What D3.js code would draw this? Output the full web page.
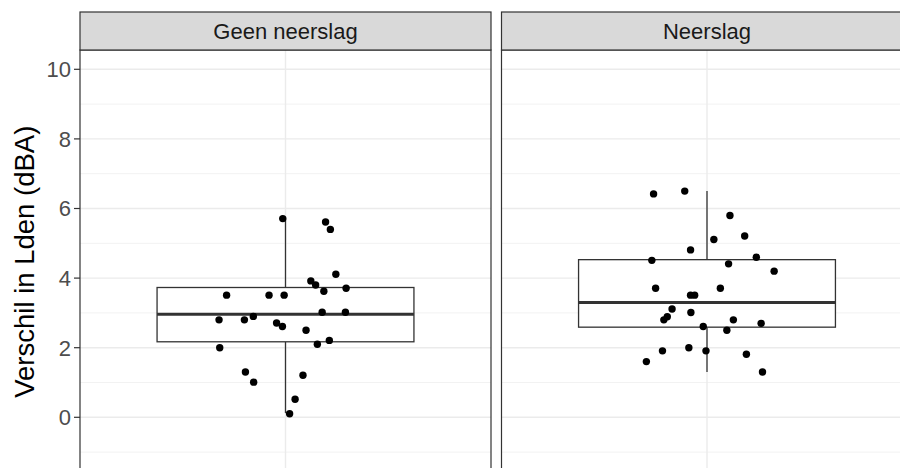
<!DOCTYPE html>
<html><head><meta charset="utf-8">
<script src="https://cdn.jsdelivr.net/npm/d3@7"></script>
<style>body{margin:0;background:#fff}svg{display:block}text{font-family:"Liberation Sans",Arial,sans-serif}</style>
</head><body>
<script>
const panels = ["Geen neerslag", "Neerslag"];
// box statistics: [lowerWhisker, Q1, median, Q3, upperWhisker]
const boxStats = [
  [0.12, 2.17, 2.96, 3.73, 5.71],
  [1.30, 2.59, 3.30, 4.53, 6.50]
];
// points: values and horizontal jitter (category units)
const geenValues = [5.71,5.61,5.40,4.11,3.92,3.80,3.62,3.71,3.51,3.51,3.51,3.02,3.02,2.80,2.80,2.90,2.71,2.61,2.50,2.10,2.21,2.00,1.30,1.01,1.21,0.52,0.10];
const geenJitter = [-0.008,0.117,0.131,0.147,0.074,0.088,0.112,0.177,-0.172,-0.048,-0.004,0.107,0.175,-0.194,-0.120,-0.094,-0.026,-0.009,0.060,0.093,0.128,-0.192,-0.117,-0.093,0.051,0.028,0.012];
const neerValues = [6.42,6.50,5.80,5.21,5.11,4.81,4.51,4.60,4.41,4.20,3.71,3.71,3.51,3.51,3.11,3.01,2.89,2.80,2.80,2.70,2.61,2.50,1.91,2.00,1.91,1.60,1.81,1.30];
const neerJitter = [-0.156,-0.065,0.067,0.110,0.020,-0.048,-0.161,0.144,0.063,0.196,-0.150,0.039,-0.048,-0.036,-0.102,-0.047,-0.116,-0.126,0.077,0.158,-0.011,0.058,-0.130,-0.053,-0.003,-0.177,0.115,0.162];
const yTicks = [0, 2, 4, 6, 8, 10];
const yMinor = [-1, 1, 3, 5, 7, 9];
const yTitle = "Verschil in Lden (dBA)";

const W = 900, H = 468;
const svg = d3.select("body").append("svg").attr("width", W).attr("height", H);

const panelTop = 50, panelBottom = 485, stripTop = 12;
const panelX = [80, 501.5], panelW = 411;
const y = d3.scaleLinear().domain([0, 10]).range([417.3, 69.3]);
const x = d3.scaleLinear().domain([0.4, 1.6]).range([0, panelW]);
const series = [
  {v: geenValues, j: geenJitter},
  {v: neerValues, j: neerJitter}
];

panels.forEach((name, i) => {
  const g = svg.append("g").attr("transform", `translate(${panelX[i]},0)`);
  // minor grid
  g.selectAll(".minor").data(yMinor).join("line")
    .attr("x1", 0).attr("x2", panelW).attr("y1", d => y(d)).attr("y2", d => y(d))
    .attr("stroke", "#f2f2f2").attr("stroke-width", 1);
  g.selectAll(".major").data(yTicks).join("line")
    .attr("x1", 0).attr("x2", panelW).attr("y1", d => y(d)).attr("y2", d => y(d))
    .attr("stroke", "#ebebeb").attr("stroke-width", 1.4);
  g.append("line").attr("x1", x(1)).attr("x2", x(1)).attr("y1", panelTop).attr("y2", panelBottom)
    .attr("stroke", "#ebebeb").attr("stroke-width", 1.4);
  // box
  const s = boxStats[i];
  const bw = 0.75;
  g.append("line").attr("x1", x(1)).attr("x2", x(1)).attr("y1", y(s[3])).attr("y2", y(s[4]))
    .attr("stroke", "#333").attr("stroke-width", 1.3);
  g.append("line").attr("x1", x(1)).attr("x2", x(1)).attr("y1", y(s[1])).attr("y2", y(s[0]))
    .attr("stroke", "#333").attr("stroke-width", 1.3);
  g.append("rect").attr("x", x(1 - bw / 2)).attr("width", x(1 + bw / 2) - x(1 - bw / 2))
    .attr("y", y(s[3])).attr("height", y(s[1]) - y(s[3]))
    .attr("fill", "#fff").attr("stroke", "#333").attr("stroke-width", 1.3);
  g.append("line").attr("x1", x(1 - bw / 2)).attr("x2", x(1 + bw / 2)).attr("y1", y(s[2])).attr("y2", y(s[2]))
    .attr("stroke", "#333").attr("stroke-width", 3);
  // points
  const pts = series[i].v.map((v, k) => ({v, j: series[i].j[k]}));
  g.selectAll(".pt").data(pts).join("circle")
    .attr("cx", d => x(1 + d.j)).attr("cy", d => y(d.v)).attr("r", 3.7).attr("fill", "#000");
  // panel border
  g.append("rect").attr("x", 0).attr("y", panelTop).attr("width", panelW).attr("height", panelBottom - panelTop)
    .attr("fill", "none").attr("stroke", "#333").attr("stroke-width", 1.2);
  // strip
  g.append("rect").attr("x", 0).attr("y", stripTop).attr("width", panelW).attr("height", panelTop - stripTop)
    .attr("fill", "#d9d9d9").attr("stroke", "#333").attr("stroke-width", 1.2);
  g.append("text").attr("x", panelW / 2).attr("y", (stripTop + panelTop) / 2).attr("dy", "0.35em")
    .attr("text-anchor", "middle").attr("font-size", 22).attr("fill", "#1a1a1a").text(name);
});

// y axis
const ax = svg.append("g").attr("transform", `translate(${panelX[0]},0)`);
ax.selectAll(".tk").data(yTicks).join("line")
  .attr("x1", -6).attr("x2", 0).attr("y1", d => y(d)).attr("y2", d => y(d))
  .attr("stroke", "#333").attr("stroke-width", 1.2);
ax.selectAll(".tl").data(yTicks).join("text")
  .attr("x", -9).attr("y", d => y(d)).attr("dy", "0.36em").attr("text-anchor", "end")
  .attr("font-size", 22).attr("fill", "#4d4d4d").text(d => d);
svg.append("text").attr("transform", "translate(33.5,261.7) rotate(-90)")
  .attr("text-anchor", "middle").attr("font-size", 27.5).attr("fill", "#000").text(yTitle);
</script>
</body></html>
